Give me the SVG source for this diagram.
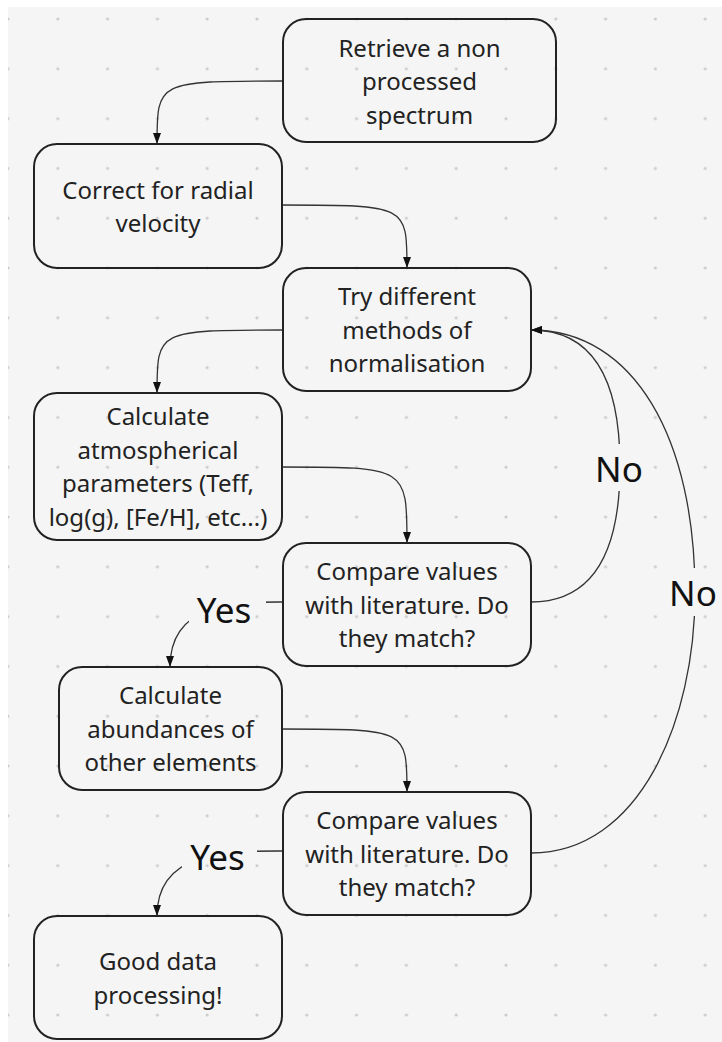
<svg xmlns="http://www.w3.org/2000/svg" width="722" height="1042" viewBox="0 0 722 1042">
<style>
.box{fill:none;stroke:#222;stroke-width:2}
.t{font-family:"Noto Sans","Open Sans","Liberation Sans",sans-serif;font-size:24px;fill:#222;text-anchor:middle}
.lbl{font-family:"Noto Sans","Liberation Sans",sans-serif;font-size:35px;fill:#111;text-anchor:middle}
.c{fill:none;stroke:#333;stroke-width:1.3}
</style>
<defs>
<pattern id="dots" x="-16.9" y="-5.9" width="49.8" height="49.8" patternUnits="userSpaceOnUse">
<circle cx="24.9" cy="24.9" r="1.6" fill="#cccccc"/>
</pattern>
<marker id="ah" markerUnits="userSpaceOnUse" markerWidth="12" markerHeight="9" refX="11" refY="4" orient="auto">
<path d="M0,0 L11,4 L0,8 z" fill="#111"/>
</marker>
<mask id="lblmask" maskUnits="userSpaceOnUse" x="0" y="0" width="722" height="1042">
<rect x="0" y="0" width="722" height="1042" fill="#fff"/>
<rect x="595" y="444" width="50" height="47" fill="#000"/>
<rect x="668" y="568" width="52" height="48" fill="#000"/>
<rect x="189" y="585" width="77" height="45" fill="#000"/>
<rect x="182" y="832" width="75" height="44" fill="#000"/>
</mask>
</defs>
<rect x="0" y="0" width="722" height="1042" fill="#ffffff"/>
<rect x="8" y="7" width="714" height="1035" fill="#f5f5f5"/>
<rect x="8" y="7" width="714" height="1035" fill="url(#dots)"/>

<g id="connectors" mask="url(#lblmask)">
<path class="c" d="M283,81 C157,81 157,81 157,144" marker-end="url(#ah)"/>
<path class="c" d="M282,205 C407,205 407,205 407,268" marker-end="url(#ah)"/>
<path class="c" d="M283,330 C157,330 157,330 157,393" marker-end="url(#ah)"/>
<path class="c" d="M282,467 C407,467 407,467 407,543" marker-end="url(#ah)"/>
<path class="c" d="M283,602 C240,602 170,600 170,667" marker-end="url(#ah)"/>
<path class="c" d="M282,729 C407,729 407,729 407,792" marker-end="url(#ah)"/>
<path class="c" d="M283,851 C230,851 157,849 157,916" marker-end="url(#ah)"/>
<path class="c" d="M531,602 C600,602 620,540 620,466 C620,392 600,330 531,330" marker-end="url(#ah)"/>
<path class="c" d="M531,853 C640,853 695,720 695,593 C695,440 635,330 531,330" marker-end="url(#ah)"/>
</g>
<g id="labels">
<text class="lbl" x="224" y="623">Yes</text>
<text class="lbl" x="217.5" y="870">Yes</text>
<text class="lbl" x="619" y="482">No</text>
<text class="lbl" x="693" y="606">No</text>
</g>

<g id="n1">
<rect class="box" x="283" y="19" width="273" height="123" rx="23"/>
<text class="t" x="419.5" y="56.5">Retrieve a non</text>
<text class="t" x="419.5" y="90">processed</text>
<text class="t" x="419.5" y="123.5">spectrum</text>
</g>
<g id="n2">
<rect class="box" x="34" y="144" width="248" height="124" rx="23"/>
<text class="t" x="158" y="198.5">Correct for radial</text>
<text class="t" x="158" y="232">velocity</text>
</g>
<g id="n3">
<rect class="box" x="283" y="268" width="248" height="123" rx="23"/>
<text class="t" x="407" y="305">Try different</text>
<text class="t" x="407" y="338.5">methods of</text>
<text class="t" x="407" y="372">normalisation</text>
</g>
<g id="n4">
<rect class="box" x="34" y="393" width="248" height="147" rx="23"/>
<text class="t" x="158" y="425">Calculate</text>
<text class="t" x="158" y="458.5">atmospherical</text>
<text class="t" x="158" y="492">parameters (Teff,</text>
<text class="t" x="158" y="525.5">log(g), [Fe/H], etc...)</text>
</g>
<g id="n5">
<rect class="box" x="283" y="543" width="248" height="123" rx="23"/>
<text class="t" x="407" y="580">Compare values</text>
<text class="t" x="407" y="613.5">with literature. Do</text>
<text class="t" x="407" y="647">they match?</text>
</g>
<g id="n6">
<rect class="box" x="59" y="667" width="223" height="123" rx="23"/>
<text class="t" x="170.5" y="704">Calculate</text>
<text class="t" x="170.5" y="737.5">abundances of</text>
<text class="t" x="170.5" y="771">other elements</text>
</g>
<g id="n7">
<rect class="box" x="283" y="792" width="248" height="123" rx="23"/>
<text class="t" x="407" y="829">Compare values</text>
<text class="t" x="407" y="862.5">with literature. Do</text>
<text class="t" x="407" y="896">they match?</text>
</g>
<g id="n8">
<rect class="box" x="34" y="916" width="248" height="123" rx="23"/>
<text class="t" x="158" y="970">Good data</text>
<text class="t" x="158" y="1003.5">processing!</text>
</g>
</svg>
